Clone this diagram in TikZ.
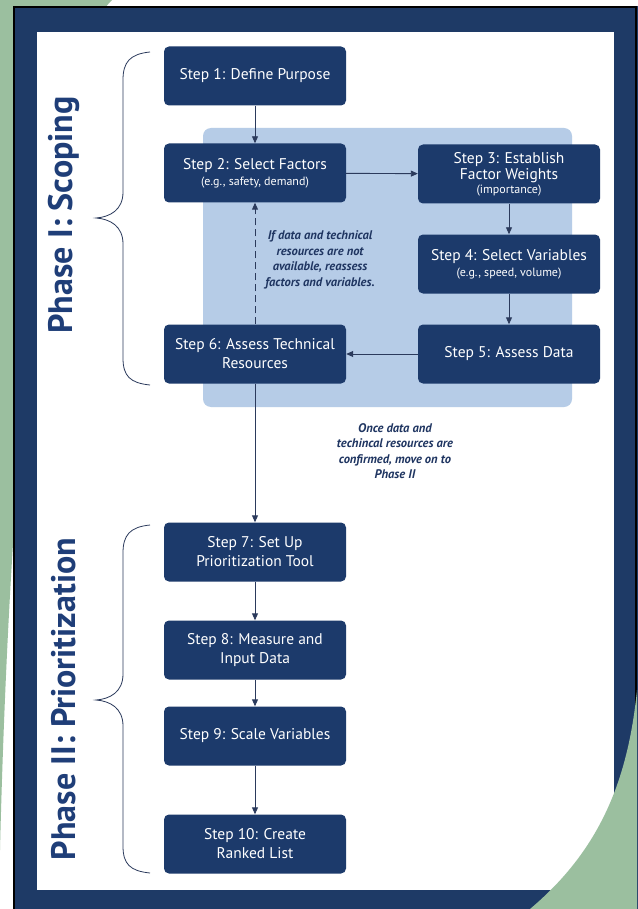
\documentclass[tikz,border=0pt]{standalone}
\usepackage{fontspec}
\setmainfont{PT Sans}
\usetikzlibrary{arrows.meta, positioning}

\definecolor{verde}{HTML}{9BBF9F}
\definecolor{cornice}{HTML}{1E3A66}
\definecolor{boxblu}{HTML}{1C3A6B}
\definecolor{pannello}{HTML}{B6CCE7}
\definecolor{linea}{HTML}{2B3A5C}
\definecolor{notablu}{HTML}{1F3561}
\definecolor{fasblu}{HTML}{1F3E78}

\begin{document}
\begin{tikzpicture}[x=1pt, y=-1pt,
    passo/.style={fill=boxblu, rounded corners=5pt, minimum width=182pt, minimum height=59pt,
      text=white, align=center, inner sep=2pt, font=\fontsize{15.5}{19}\selectfont},
    freccia/.style={draw=linea, line width=0.9pt, -{Triangle[length=7pt,width=6pt]}},
    nota/.style={text=notablu, align=center, font=\bfseries\itshape\fontsize{12.5}{15.5}\selectfont},
    fase/.style={text=fasblu, rotate=90, font=\bfseries\fontsize{34}{38}\selectfont},
    graffa/.style={draw=linea, line width=0.8pt}]
        \useasboundingbox (0,0) rectangle (637,909);
        % Sfondo
        \fill[white] (0,0) rectangle (637,909);
        \fill[verde] (0,0) -- (112,0) .. controls (30,80) and (6,600) .. (0,850) -- cycle;
        \fill[cornice] (13,6) rectangle (640,912);
        \draw[black, line width=1.6pt] (14,7) rectangle (636,915);
        \fill[white] (37,32) rectangle (614,890);
        \fill[verde] (637,690) .. controls (628,780) and (600,850) .. (530,909) -- (637,909) -- cycle;

        % Pannello fase I
        \fill[pannello, rounded corners=8pt] (203,128) rectangle (572,407);

        % Graffe
        \draw[graffa] (150,52) .. controls (130,54) and (123,62) .. (123,80) -- (123,192)
          .. controls (123,210) and (110,217) .. (96,218) .. controls (110,219) and (123,226) .. (123,244)
          -- (123,358) .. controls (123,376) and (130,383) .. (150,385);
        \draw[graffa] (150,525) .. controls (130,527) and (123,535) .. (123,553) -- (123,674)
          .. controls (123,692) and (110,699) .. (96,700) .. controls (110,701) and (123,708) .. (123,726)
          -- (123,846) .. controls (123,864) and (130,871) .. (150,873);

        % Etichette fasi
        \node[fase] (f1) at (64,215) {Phase I: Scoping};
        \node[fase] (f2) at (64,699) {Phase II: Prioritization};

        % Passi
        \node[passo] (s1) at (255,76) {Step 1: Define Purpose};
        \node[passo] (s2) at (255,173) {Step 2: Select Factors\\[-3pt]{\fontsize{12}{14}\selectfont (e.g., safety, demand)}};
        \node[passo] (s3) at (509,174) {Step 3: Establish\\[-3pt]Factor Weights\\[-5pt]{\fontsize{12}{14}\selectfont (importance)}};
        \node[passo] (s4) at (509,264) {Step 4: Select Variables\\[-3pt]{\fontsize{12}{14}\selectfont (e.g., speed, volume)}};
        \node[passo] (s5) at (509,354) {Step 5: Assess Data};
        \node[passo] (s6) at (255,354) {Step 6: Assess Technical\\Resources};
        \node[passo] (s7) at (255,552) {Step 7: Set Up\\Prioritization Tool};
        \node[passo] (s8) at (255,650) {Step 8: Measure and\\Input Data};
        \node[passo] (s9) at (255,736) {Step 9: Scale Variables};
        \node[passo] (s10) at (255,844) {Step 10: Create\\Ranked List};

        % Frecce
        \draw[freccia] (s1) -- (s2);
        \draw[freccia] (s2) -- (s3);
        \draw[freccia] (s3) -- (s4);
        \draw[freccia] (s4) -- (s5);
        \draw[freccia] (s5) -- (s6);
        \draw[freccia, dash pattern=on 7pt off 4pt] (s6) -- (s2);
        \draw[freccia] (s6) -- (s7);
        \draw[freccia] (s7) -- (s8);
        \draw[freccia] (s8) -- (s9);
        \draw[freccia] (s9) -- (s10);

        % Note
        \node[nota] (n1) at (320,260) {If data and technical\\resources are not\\available, reassess\\factors and variables.};
        \node[nota] (n2) at (395,451) {Once data and\\techincal resources are\\confirmed, move on to\\Phase II};
      \end{tikzpicture}
\end{document}
